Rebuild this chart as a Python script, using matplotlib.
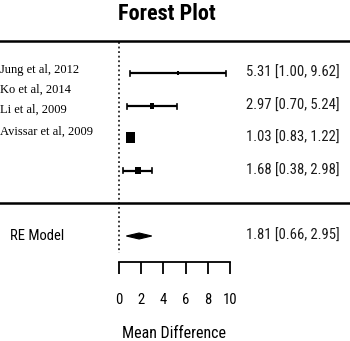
import matplotlib
matplotlib.use("Agg")
import matplotlib.pyplot as plt
from matplotlib.patches import Rectangle, Polygon

# ---- data ----
study_labels = ["Jung et al, 2012", "Ko et al, 2014", "Li et al, 2009", "Avissar et al, 2009"]
estimates = [5.31, 2.97, 1.03, 1.68]
ci_low = [1.00, 0.70, 0.83, 0.38]
ci_high = [9.62, 5.24, 1.22, 2.98]
weights = [0.3, 0.45, 1.0, 0.65]   # relative square sizes
re_est, re_low, re_high = 1.81, 0.66, 2.95
xticks = [0, 2, 4, 6, 8, 10]
title = "Forest Plot"
xlabel = "Mean Difference"

# ---- layout (vertical positions in pixel rows) ----
W, H = 350, 341
px_per_unit = 11.1
x0_px = 119
label_rows = [70.5, 90, 110, 132]
data_rows = [73, 106, 137.5, 170.5]
re_row = 236

fig = plt.figure(figsize=(W / 100, H / 100), dpi=100)
ax = fig.add_axes([0, 0, 1, 1])
ax.set_xlim(-x0_px / px_per_unit, (W - x0_px) / px_per_unit)
ax.set_ylim(H, 0)

narrow = ["Roboto Condensed", "Archivo Narrow", "Liberation Sans", "DejaVu Sans"]
serif = ["Liberation Serif", "DejaVu Serif"]

def xpx(p):
    return (p - x0_px) / px_per_unit

# separators
for yy in (41, 203):
    ax.axhline(yy, color="black", lw=1.8)
# zero line
ax.plot([0, 0], [42, 253], color="black", lw=1.1, ls=(0, (1.2, 1.8)))

# study labels
for lab, yy in zip(study_labels, label_rows):
    ax.text(xpx(0), yy, lab, family=serif, fontsize=9.0,
            ha="left", va="center")

for est, lo, hi, w, yy in zip(estimates, ci_low, ci_high, weights, data_rows):
    ax.plot([lo, hi], [yy, yy], color="black", lw=1.6, solid_capstyle="butt")
    for e in (lo, hi):
        ax.plot([e, e], [yy - 2.5, yy + 2.5], color="black", lw=1.2)
    sw = 9 * w / px_per_unit
    sh = 11.5 * w
    ax.add_patch(Rectangle((est - sw / 2, yy - sh / 2), sw, sh,
                           color="black", lw=0))
    ax.text(xpx(340), yy, f"{est:.2f} [{lo:.2f}, {hi:.2f}]", family=narrow,
            fontsize=10.5, ha="right", va="center", color="#1a1a1a")

# RE model
ax.add_patch(Polygon([[re_low, re_row], [re_est, re_row - 3.0],
                      [re_high, re_row], [re_est, re_row + 3.0]],
                     closed=True, color="black", lw=0.8))
ax.text(xpx(10), re_row, "RE Model", family=narrow, fontsize=10.5,
        ha="left", va="center")
ax.text(xpx(340), re_row, f"{re_est:.2f} [{re_low:.2f}, {re_high:.2f}]",
        family=narrow, fontsize=10.5, ha="right", va="center", color="#1a1a1a")

# axis
for s in ("top", "left", "right"):
    ax.spines[s].set_visible(False)
ax.spines["bottom"].set_position(("data", 262))
ax.spines["bottom"].set_bounds(0, 10)
ax.spines["bottom"].set_linewidth(1.3)
ax.set_yticks([])
ax.set_xticks(xticks)
ax.set_xticklabels([str(t) for t in xticks], family=narrow, fontsize=10.5)
ax.tick_params(axis="x", direction="out", length=8.6, width=1.3, pad=14)

ax.text(5, 333, xlabel, family=narrow, fontsize=11.5, ha="center", va="center")
ax.text(xpx(167), 14, title, family=narrow, fontsize=16, fontweight="bold",
        ha="center", va="center")

fig.savefig("out.png", dpi=100)
